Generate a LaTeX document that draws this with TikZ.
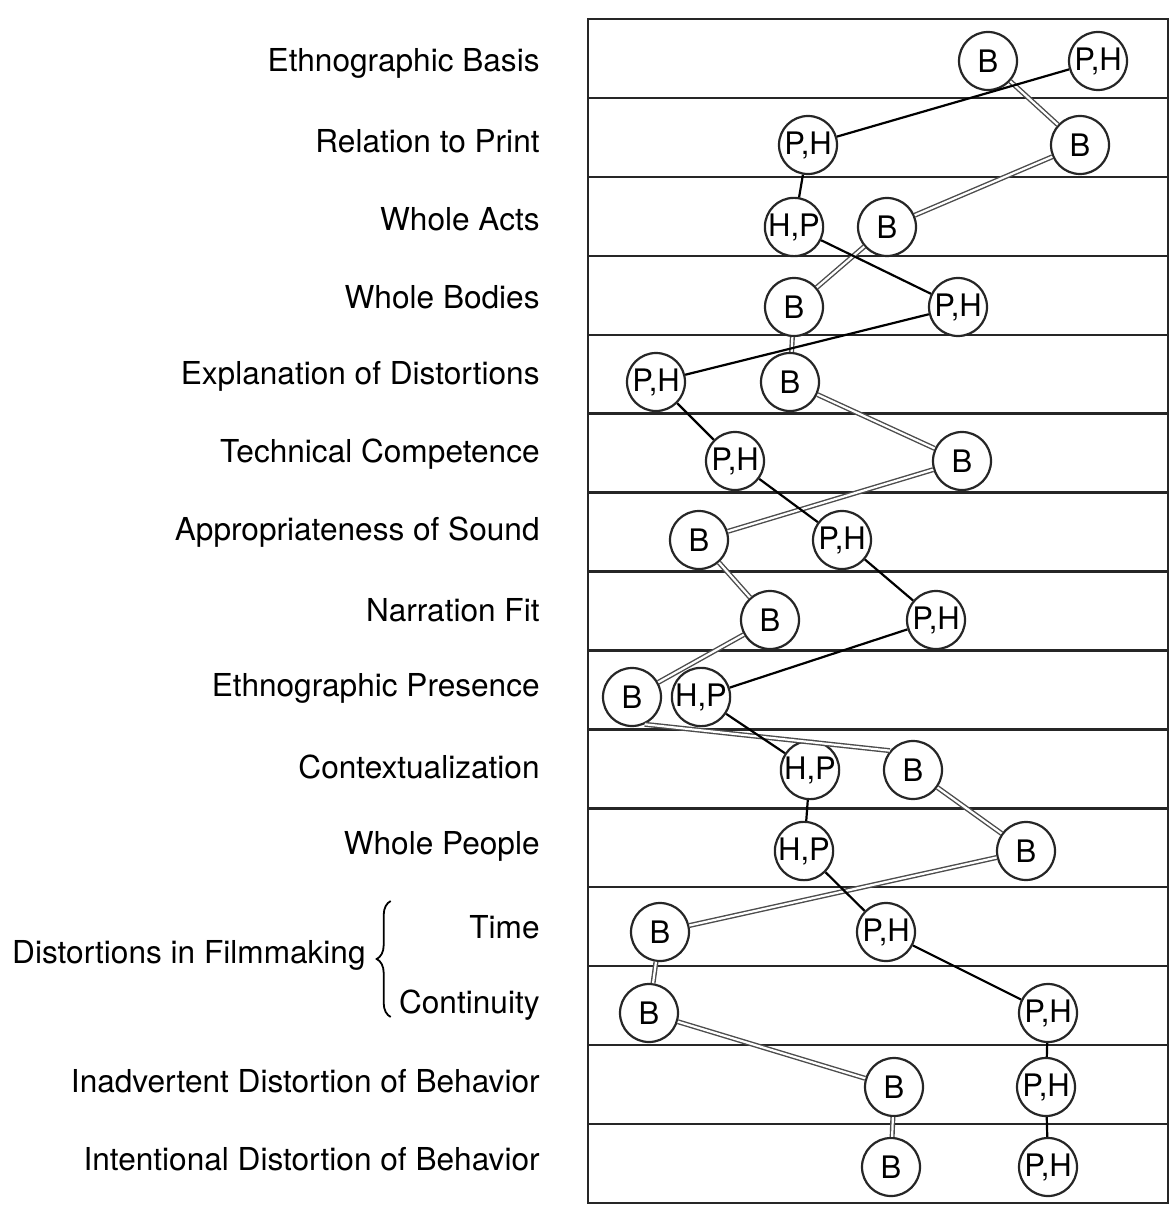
\documentclass[tikz,border=0pt]{standalone}
\usepackage{fontspec}
\setmainfont{TeX Gyre Heros}
\usetikzlibrary{positioning, decorations.pathreplacing}

\begin{document}
\begin{tikzpicture}[
  x=0.5pt, y=-0.5pt,
  lbl/.style={anchor=east, inner sep=0pt, font=\fontsize{15.8}{19}\selectfont},
  rule/.style={line width=1.2pt, black!85},
  bub/.style={circle, draw=black!85, line width=1.1pt, fill=white, minimum size=29pt,
              inner sep=0pt, font=\fontsize{15.5}{18}\selectfont},
  phl/.style={line width=1.1pt, black},
  bl/.style={draw=black!70, line width=0.7pt, double=white, double distance=1.1pt},
  brc/.style={decorate, decoration={brace, amplitude=7pt}, line width=0.9pt}]
\useasboundingbox (0,0) rectangle (1176,1214);
% --- frame and row rules ---
\draw[rule] (588,19) rectangle (1168,1203);
\foreach \k in {1,...,14} \draw[rule] (588,{19+78.93*\k}) -- (1168,{19+78.93*\k});
% --- row labels ---
\foreach \i/\y/\txt in {1/63/Ethnographic Basis, 2/141/Relation to Print, 3/219/Whole Acts,
    4/297/Whole Bodies, 5/376/Explanation of Distortions, 6/454/Technical Competence,
    7/532/Appropriateness of Sound, 8/610/Narration Fit, 9/688/Ethnographic Presence,
    10/767/Contextualization, 11/846/Whole People, 14/1081/Inadvertent Distortion of Behavior,
    15/1159/Intentional Distortion of Behavior}
  \node[lbl] (lab\i) at (540,\y) {\txt};
\node[lbl] (time) at (540,927) {Time};
\node[lbl] (cont) at (540,1005) {Continuity};
\draw[brc] ([xshift=-4pt,yshift=-6pt]cont.west) -- ([xshift=-4pt,yshift=13pt]cont.west |- time.center);
\node[lbl] (dist) at (366,955) {Distortions in Filmmaking};
% --- ratings: B and P,H per row ---
\foreach \r/\b/\p/\y/\t in {1/988/1098/61/{P,H}, 2/1080/808/145/{P,H}, 3/887/794/227/{H,P},
    4/794/958/307/{P,H}, 5/790/656/382/{P,H}, 6/962/735/461/{P,H}, 7/699/842/540/{P,H},
    8/770/936/620/{P,H}, 9/632/701/697/{H,P}, 10/913/810/770/{H,P}, 11/1026/804/851/{H,P},
    12/660/886/932/{P,H}, 13/649/1048/1013/{P,H}, 14/894/1046/1087/{P,H}, 15/891/1048/1167/{P,H}}
{
  \node[bub] (b\r) at (\b,\y) {B};
  \node[bub] (p\r) at (\p,\y) {\t};
}
% connectors
\foreach \s/\n in {1/2,2/3,3/4,4/5,5/6,6/7,7/8,8/9,10/11,11/12,12/13,13/14,14/15}
  \draw[bl] (b\s) -- (b\n);
\draw[bl] (b9.-65) -- (b10.140);
\foreach \s/\n in {1/2,2/3,3/4,4/5,5/6,6/7,7/8,8/9,9/10,10/11,11/12,12/13,13/14,14/15}
  \draw[phl] (p\s) -- (p\n);
\end{tikzpicture}
\end{document}
